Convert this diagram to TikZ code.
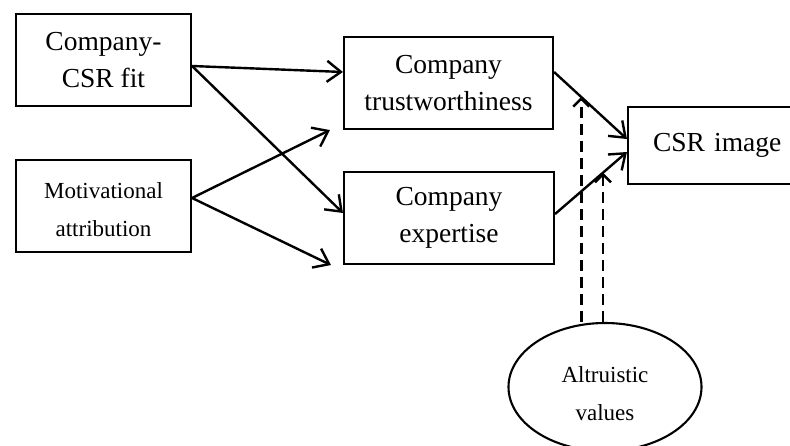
\documentclass[tikz,border=0pt]{standalone}
\usepackage{fontspec}
\setmainfont{Liberation Serif}
\usetikzlibrary{arrows.meta,shapes.geometric,calc}
\begin{document}
\begin{tikzpicture}[x=1pt,y=1pt,
  bigtext/.style={font=\fontsize{27.5}{37.5}\selectfont},
  smalltext/.style={font=\fontsize{23}{38}\selectfont},
  box/.style={draw,line width=2.1pt,rectangle,align=center,inner sep=0pt,minimum height=92pt},
  arr/.style={line width=2.4pt,-{Straight Barb[length=14pt,width=21pt,line width=2.4pt]}},
  darr/.style={line width=2.6pt,dash pattern=on 11pt off 6pt,-{Straight Barb[length=8pt,width=16pt,line width=2.4pt]}}]
\clip (0,0) rectangle (790,445);
\fill[white] (0,0) rectangle (790,445);
\node[box,bigtext,minimum width=175pt] (b1) at (103.5,385) {Company-\\CSR fit};
\node[box,minimum width=175pt,label={[smalltext,align=center,yshift=-4pt]center:Motivational\\attribution}] (b2) at (103.5,239) {};
\node[box,bigtext,minimum width=209pt] (b3) at (448.5,362) {Company\\trustworthiness};
\node[box,bigtext,minimum width=210pt] (b4) at (449,227) {Company\\expertise};
\node[box,bigtext,minimum width=180pt,minimum height=77pt,text width=176pt,align=left] (b5) at (718,299.5) {\hspace{23pt}CSR image};
\node[draw,line width=2.1pt,ellipse,minimum width=193pt,minimum height=128pt,inner sep=0pt,label={[smalltext,align=center,yshift=-7pt]center:Altruistic\\values}] (e) at (605,58) {};
\draw[arr] ([yshift=-6pt]b1.east) -- ([yshift=11pt]b3.west);
\draw[arr] ([yshift=-6pt]b1.east) -- ([yshift=5pt]b4.west);
\draw[arr] ([yshift=8pt]b2.east) -- ([xshift=-13pt]b3.south west);
\draw[arr] ([yshift=8pt]b2.east) -- ([xshift=-12pt]b4.south west);
\draw[arr] ([yshift=11pt]b3.east) -- coordinate[pos=0.373] (m1) ([yshift=6.5pt]b5.west);
\draw[arr] ([yshift=4pt]b4.east) -- coordinate[pos=0.667] (m2) ([yshift=-6.5pt]b5.west);
\draw[darr] (m1 |- e.north) -- (m1);
\draw[darr] (m2 |- e.north) -- (m2);
\end{tikzpicture}
\end{document}
